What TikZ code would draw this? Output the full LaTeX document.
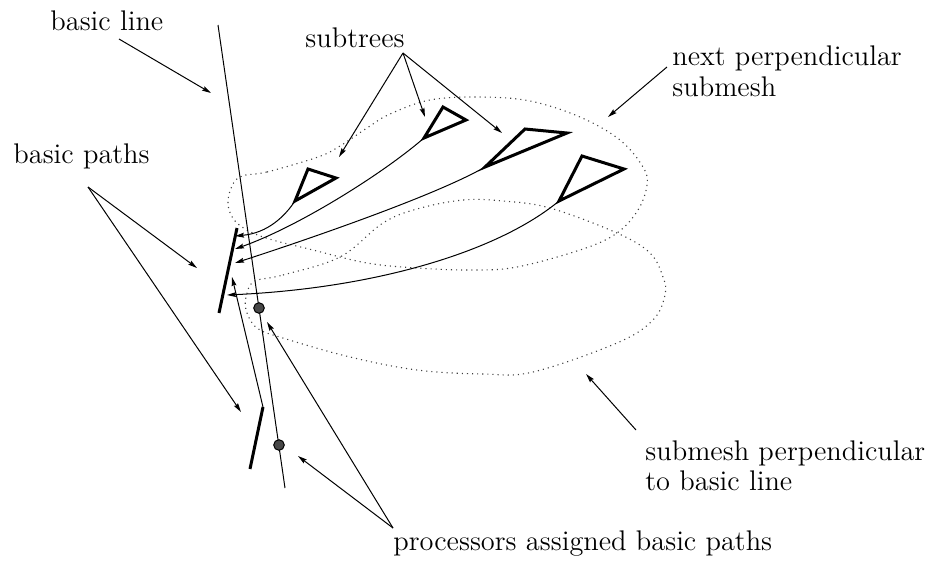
\documentclass[tikz,border=0pt]{standalone}
\usepackage{fontspec}
\usetikzlibrary{arrows.meta}
\begin{document}
\begin{tikzpicture}[x=0.5pt,y=-0.5pt,
  lbl/.style={inner sep=0pt,anchor=base west,font=\rmfamily\fontsize{14.2pt}{15pt}\selectfont},
  fine/.style={line width=0.5pt},
  arr/.style={line width=0.5pt,-{Stealth[length=4.5pt,width=2.4pt,inset=0.6pt]}},
  pathseg/.style={line width=1.5pt},
  tri/.style={line width=1.5pt,line join=miter},
  mesh/.style={line width=0.55pt,dotted,black!75},
  proc/.style={circle,draw=black,line width=0.5pt,fill=black!72,minimum size=5.3pt,inner sep=0pt}
]
\useasboundingbox (0,0) rectangle (928,569);

% dotted submeshes
\draw[mesh] plot[smooth cycle,tension=0.6] coordinates {
  (242,176) (267,172) (318,157) (340,146) (367,128) (390,114) (430,100) (480,97)
  (530,101) (580,117) (620,140) (643,167) (647,185) (638,210) (617,233) (583,249)
  (517,267) (470,270) (417,268) (367,263) (313,250) (263,237) (237,223) (228,205) (232,186)};
\draw[mesh] plot[smooth cycle,tension=0.6] coordinates {
  (255,281) (283,275) (340,257) (383,223) (417,209) (463,200) (503,201) (550,208)
  (617,233) (650,253) (663,277) (665,295) (653,320) (617,343) (533,372) (483,374)
  (417,370) (350,357) (283,338) (257,328) (246,310) (247,293)};

% basic line
\coordinate (blTop) at (218,25);
\coordinate (blBot) at (285,488);
\draw[fine] (blTop) -- (blBot);

% basic paths
\coordinate (s1a) at (237,228);
\coordinate (s1b) at (219,313);
\coordinate (s2a) at (263,407);
\coordinate (s2b) at (250,469);
\coordinate (s1up) at (232,277);
\draw[pathseg] (s1a) -- (s1b);
\draw[pathseg] (s2a) -- (s2b);
\draw[arr] (s2a) -- (s1up);

% processors
\node[proc] (p1) at (259,308) {};
\node[proc] (p2) at (279,445) {};

% subtrees
\coordinate (t1a) at (308,169); \coordinate (t1b) at (336,178); \coordinate (t1c) at (295,201);
\coordinate (t2a) at (443,107); \coordinate (t2b) at (466,120); \coordinate (t2c) at (424,138);
\coordinate (t3a) at (525,129); \coordinate (t3b) at (567,133); \coordinate (t3c) at (485,167);
\coordinate (t4a) at (582,156); \coordinate (t4b) at (624,169); \coordinate (t4c) at (559,201);
\draw[tri] (t1a) -- (t1b) -- (t1c) -- cycle;
\draw[tri] (t2a) -- (t2b) -- (t2c) -- cycle;
\draw[tri] (t3a) -- (t3b) -- (t3c) -- cycle;
\draw[tri] (t4a) -- (t4b) -- (t4c) -- cycle;

% subtree connections into basic path
\coordinate (a1) at (235,236);
\coordinate (a2) at (235,249);
\coordinate (a3) at (235,263);
\coordinate (a4) at (227,295);
\draw[arr] (t1c) .. controls (285,216) and (268,233) .. (a1);
\draw[arr] (t2c) .. controls (385,172) and (300,226) .. (a2);
\draw[arr] (t3c) .. controls (435,196) and (300,242) .. (a3);
\draw[arr] (t4c) .. controls (500,250) and (380,288) .. (a4);

% labels
\node[lbl] (lBasicLine) at (50,30) {basic line};
\node[lbl] (lSubtrees) at (305,47) {subtrees};
\node[lbl] (lNext1) at (672,65) {next perpendicular};
\node[lbl] (lNext2) at (672,96) {submesh};
\node[lbl] (lBasicPaths) at (13,163) {basic paths};
\node[lbl] (lSub1) at (645,460) {submesh perpendicular};
\node[lbl] (lSub2) at (645,490) {to basic line};
\node[lbl] (lProc) at (393,550) {processors assigned basic paths};

% label arrows
\coordinate (blA) at (119,39);   \coordinate (blB) at (211,93);
\draw[arr] (blA) -- (blB);
\coordinate (stA) at (403,53);
\coordinate (st1) at (339,157); \coordinate (st2) at (425,117); \coordinate (st3) at (502,133);
\draw[arr] (stA) -- (st1);
\draw[arr] (stA) -- (st2);
\draw[arr] (stA) -- (st3);
\coordinate (npA) at (667,67);  \coordinate (npB) at (608,117);
\draw[arr] (npA) -- (npB);
\coordinate (bpA) at (88,187);
\coordinate (bp1) at (197,268); \coordinate (bp2) at (241,412);
\draw[arr] (bpA) -- (bp1);
\draw[arr] (bpA) -- (bp2);
\coordinate (spA) at (636,430); \coordinate (spB) at (586,374);
\draw[arr] (spA) -- (spB);
\coordinate (prA) at (393,528);
\coordinate (pr1) at (267,322); \coordinate (pr2) at (298,456);
\draw[arr] (prA) -- (pr1);
\draw[arr] (prA) -- (pr2);
\end{tikzpicture}
\end{document}
